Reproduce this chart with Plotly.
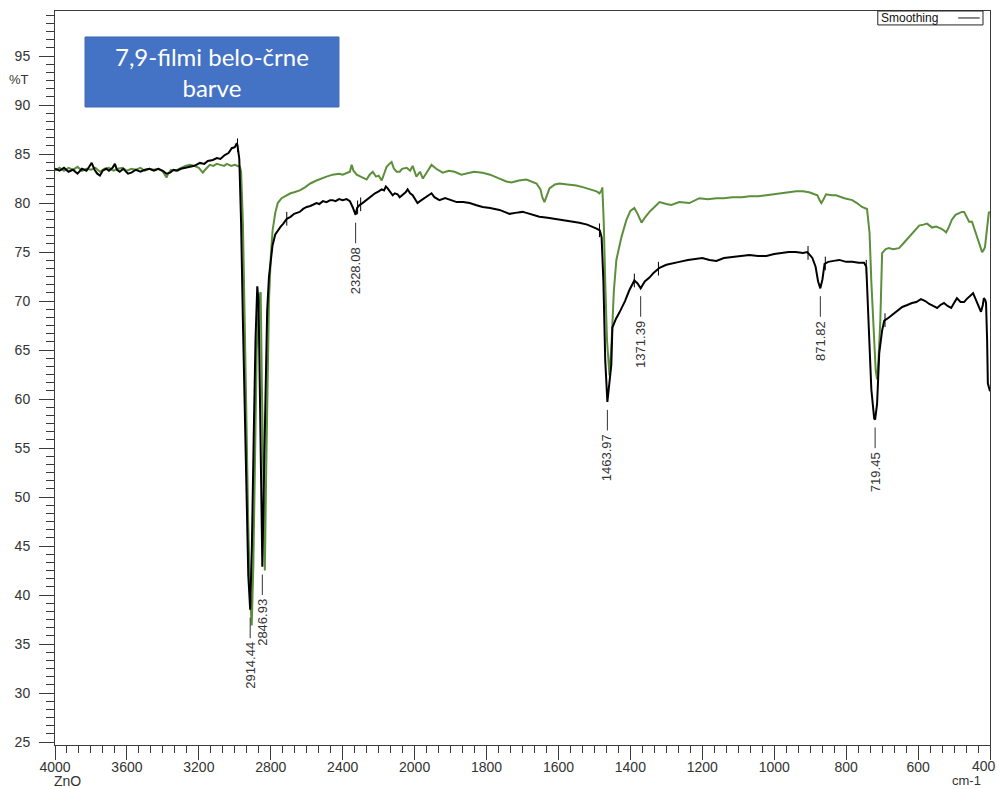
import numpy as np
import plotly.graph_objects as go

# ---------------- data ----------------
# black spectrum (wavenumber cm-1, %T)
black_wn = [4000, 3975, 3950, 3925, 3900, 3875, 3850, 3825, 3810, 3796, 3780, 3765, 3750, 3735, 3715,
            3700, 3680, 3667, 3655, 3640, 3620, 3594, 3575, 3550, 3525, 3500, 3475, 3450, 3425, 3400,
            3380, 3360, 3340, 3320, 3300, 3275, 3250, 3225, 3194, 3170, 3150, 3122, 3100, 3080, 3056,
            3035, 3017, 3000, 2989, 2985, 2975, 2965, 2955, 2945, 2935, 2925, 2914.44, 2905, 2895, 2885,
            2875, 2868, 2860, 2853, 2846.93, 2840, 2830, 2820, 2810, 2800, 2790, 2775, 2761, 2745, 2730,
            2711, 2690, 2670, 2655, 2639, 2620, 2600, 2580, 2560, 2546, 2530, 2510, 2490, 2470, 2456,
            2440, 2420, 2400, 2378, 2360, 2345, 2335, 2328.08, 2320, 2306, 2290, 2270, 2250, 2235, 2220,
            2200, 2183, 2170, 2160, 2150, 2140, 2130, 2122, 2110, 2095, 2083, 2065, 2050, 2039, 2025,
            2011, 2000, 1992, 1985, 1977, 1965, 1953, 1945, 1931, 1915, 1900, 1883, 1865, 1847, 1830,
            1811, 1790, 1764, 1750, 1736, 1720, 1700, 1689, 1670, 1653, 1630, 1610, 1597, 1575, 1560,
            1542, 1520, 1505, 1494, 1485, 1480, 1475, 1470, 1463.97, 1458, 1453, 1450, 1440, 1431, 1415,
            1403, 1389, 1380, 1371.39, 1360, 1347, 1335, 1319, 1300, 1280, 1264, 1240, 1220, 1200, 1180,
            1161, 1140, 1117, 1090, 1069, 1045, 1022, 1000, 978, 960, 940, 920, 908, 894, 885,
            878, 871.82, 866, 860, 850, 835, 819, 800, 783, 765, 750, 744, 738, 730, 722,
            719.45, 714, 708, 700, 694, 682, 672, 660, 644, 630, 617, 605, 592, 580, 569,
            558, 547, 538, 528, 518, 508, 500, 492, 482, 472, 465, 458, 447, 440, 436,
            430, 425, 420, 417, 413, 411, 408, 406, 400]
black_t = [83.5, 83.3, 83.6, 83.2, 83.4, 83.0, 83.5, 83.3, 83.7, 84.1, 83.4, 83.0, 82.8, 83.3, 83.5,
           83.3, 83.6, 84.0, 83.4, 83.2, 83.5, 83.0, 83.1, 83.4, 83.2, 83.4, 83.5, 83.3, 83.5, 83.3,
           83.0, 83.1, 83.4, 83.3, 83.5, 83.6, 83.7, 83.8, 84.1, 84.0, 84.3, 84.4, 84.6, 84.5, 84.9,
           85.1, 85.6, 85.7, 86.1, 85.9, 84.5, 78.0, 68.0, 58.0, 48.0, 42.0, 38.5, 45.0, 56.0, 66.0,
           71.5, 70.0, 60.0, 50.0, 42.9, 50.0, 62.0, 69.0, 72.5, 74.5, 75.7, 76.8, 77.2, 77.6, 77.9,
           78.4, 78.6, 78.9, 79.0, 79.1, 79.4, 79.6, 79.7, 79.9, 80.0, 79.9, 80.2, 80.1, 80.3, 80.3,
           80.2, 80.4, 80.3, 80.4, 80.2, 79.6, 79.2, 78.8, 79.5, 79.8, 80.0, 80.3, 80.6, 80.8, 81.0,
           81.2, 81.4, 81.3, 81.7, 81.5, 81.2, 80.9, 80.8, 81.0, 80.9, 80.6, 80.9, 81.1, 81.4, 81.0,
           80.8, 80.5, 80.0, 80.2, 80.4, 80.7, 81.0, 80.6, 80.3, 80.5, 80.3, 80.1, 80.1, 80.0, 79.8,
           79.6, 79.5, 79.3, 79.1, 78.9, 79.0, 79.1, 79.0, 78.8, 78.6, 78.5, 78.4, 78.3, 78.2, 78.1,
           78.0, 77.8, 77.6, 77.4, 77.2, 76.5, 72.0, 64.0, 59.7, 61.5, 63.5, 67.3, 68.2, 68.8, 70.0,
           71.1, 72.1, 71.8, 71.3, 72.0, 72.4, 72.9, 73.4, 73.7, 73.9, 74.0, 74.2, 74.3, 74.4, 74.2,
           74.1, 74.4, 74.5, 74.6, 74.7, 74.6, 74.6, 74.8, 74.9, 75.0, 75.0, 74.9, 75.0, 74.4, 73.5,
           72.0, 71.3, 72.2, 73.8, 74.0, 74.1, 74.2, 74.0, 74.0, 73.9, 73.9, 73.5, 68.0, 61.0, 58.0,
           57.9, 59.5, 64.7, 67.0, 68.0, 68.3, 68.6, 69.0, 69.4, 69.6, 69.8, 69.9, 70.2, 70.0, 69.7,
           69.5, 69.3, 69.6, 69.8, 69.5, 69.3, 69.8, 70.3, 69.9, 69.9, 70.2, 70.4, 70.8, 70.2, 69.8,
           69.3, 68.9, 69.6, 70.3, 70.1, 69.8, 66.0, 61.6, 60.8]

# green spectrum (wavenumber cm-1, %T)
green_wn = [4000, 3975, 3950, 3925, 3900, 3875, 3850, 3825, 3800, 3775, 3750, 3725, 3700, 3675, 3650,
            3625, 3600, 3575, 3550, 3525, 3500, 3475, 3450, 3425, 3400, 3390, 3380, 3370, 3355, 3330,
            3300, 3275, 3250, 3225, 3200, 3185, 3178, 3165, 3150, 3139, 3120, 3100, 3080, 3060, 3044,
            3020, 3000, 2985, 2972, 2965, 2955, 2945, 2935, 2925, 2915, 2906, 2897, 2888, 2878, 2866,
            2856, 2850, 2842, 2833, 2826, 2818, 2810, 2800, 2790, 2775, 2761, 2740, 2711, 2690, 2670,
            2639, 2610, 2580, 2546, 2520, 2490, 2456, 2420, 2400, 2378, 2360, 2350, 2340, 2322, 2300,
            2280, 2267, 2250, 2233, 2215, 2200, 2183, 2170, 2156, 2140, 2128, 2115, 2100, 2083, 2070,
            2044, 2025, 2011, 2000, 1995, 1985, 1977, 1965, 1953, 1940, 1922, 1905, 1889, 1870, 1856,
            1835, 1811, 1790, 1764, 1745, 1731, 1710, 1689, 1675, 1661, 1650, 1645, 1639, 1632, 1625,
            1610, 1597, 1575, 1550, 1530, 1508, 1494, 1486, 1480, 1478, 1474, 1470, 1465, 1458, 1452,
            1446, 1439, 1425, 1411, 1400, 1389, 1380, 1369, 1358, 1347, 1333, 1319, 1300, 1286, 1264,
            1236, 1208, 1185, 1161, 1140, 1117, 1090, 1069, 1045, 1022, 1000, 978, 960, 939, 920,
            903, 888, 880, 874, 869, 864, 856, 840, 828, 805, 783, 770, 756, 742, 735,
            730, 724, 718, 714, 710, 705, 700, 690, 681, 670, 653, 643, 633, 625, 617,
            607, 597, 585, 575, 568, 561, 550, 536, 528, 522, 515, 506, 496, 486, 478,
            472, 465, 458, 450, 443, 436, 428, 422, 418, 414, 408, 403, 400]
green_t = [83.3, 83.6, 83.3, 83.6, 83.4, 83.7, 83.3, 83.5, 83.4, 83.6, 83.2, 83.5, 83.6, 83.3, 83.5,
           83.6, 83.3, 83.5, 83.4, 83.6, 83.3, 83.5, 83.4, 83.5, 83.2, 82.9, 82.6, 83.0, 83.4, 83.3,
           83.6, 83.8, 83.9, 83.8, 83.6, 83.3, 83.1, 83.4, 83.7, 83.9, 83.8, 84.0, 83.9, 83.8, 84.0,
           83.8, 83.9, 83.8, 83.7, 83.2, 78.0, 68.0, 57.0, 47.0, 40.0, 36.9, 43.0, 55.0, 65.0, 70.5,
           70.9, 62.0, 50.0, 42.5, 52.0, 64.0, 70.0, 74.5, 77.2, 79.0, 80.0, 80.5, 80.8, 81.0, 81.1,
           81.3, 81.6, 82.0, 82.3, 82.5, 82.7, 82.9, 83.0, 82.9, 83.1, 83.2, 83.9, 83.3, 82.9, 82.7,
           82.6, 82.4, 82.9, 83.2, 82.7, 82.8, 82.3, 83.0, 83.7, 84.0, 84.2, 83.5, 83.2, 83.2, 83.5,
           83.6, 83.3, 83.8, 83.3, 82.7, 83.2, 82.5, 83.2, 83.9, 83.5, 83.1, 83.3, 83.2, 82.9, 83.0,
           83.2, 83.1, 82.9, 82.5, 82.2, 82.1, 82.3, 82.4, 82.2, 82.0, 81.4, 80.6, 80.1, 80.8, 81.5,
           81.9, 82.0, 81.9, 81.8, 81.6, 81.4, 81.2, 81.0, 81.3, 81.6, 78.0, 72.0, 66.0, 62.4, 66.0,
           71.0, 74.2, 76.5, 78.3, 79.2, 79.5, 78.9, 78.0, 78.6, 79.1, 79.6, 80.1, 79.9, 79.8, 80.1,
           80.0, 80.5, 80.4, 80.5, 80.5, 80.6, 80.6, 80.7, 80.7, 80.8, 80.9, 81.0, 81.1, 81.2, 81.2,
           81.1, 80.9, 80.8, 80.3, 80.0, 80.3, 80.9, 80.8, 80.8, 80.5, 80.3, 80.0, 79.6, 79.4, 77.0,
           72.0, 67.0, 63.0, 62.0, 64.0, 68.0, 74.9, 75.3, 75.4, 75.3, 75.4, 75.8, 76.2, 76.5, 76.9,
           77.3, 77.7, 77.8, 77.9, 77.7, 77.5, 77.6, 77.4, 77.2, 77.0, 77.5, 78.3, 78.8, 79.0, 79.1,
           79.1, 78.6, 78.1, 78.1, 77.3, 76.5, 75.6, 75.0, 75.2, 75.5, 77.5, 79.1, 79.0]

# picked peaks on the black spectrum
peak_wn = [2914.44, 2846.93, 2328.08, 1463.97, 1371.39, 871.82, 719.45]
peak_text = ["2914.44", "2846.93", "2328.08", "1463.97", "1371.39", "871.82", "719.45"]

# peak-pick limit markers on the black spectrum
limit_wn = [2985, 2711, 2317, 2300, 1486, 1389, 1322, 906, 858, 744, 692]

x_major = [4000, 3600, 3200, 2800, 2400, 2000, 1800, 1600, 1400, 1200, 1000, 800, 600, 400]

BLACK = "#000000"
GREEN = "#5b8f3b"
FRAME = "#3a3a3a"
TXT = "#333333"
FONT = "Liberation Sans, Arial"


def ax(w):
    """Wavenumber -> axis coordinate (scale halves above 2000 cm-1)."""
    w = np.asarray(w, dtype=float)
    return np.where(w <= 2000, w, 2000 + (w - 2000) / 2.0)


fig = go.Figure()

fig.add_trace(go.Scatter(x=ax(green_wn), y=green_t, mode="lines",
                         line=dict(color=GREEN, width=2), hoverinfo="skip"))
fig.add_trace(go.Scatter(x=ax(black_wn), y=black_t, mode="lines",
                         line=dict(color=BLACK, width=2), hoverinfo="skip"))

# small vertical limit markers sitting on the black trace
bw_sorted = np.array(black_wn[::-1], dtype=float)
bt_sorted = np.array(black_t[::-1], dtype=float)
lx, ly = [], []
for w in limit_wn:
    v = float(np.interp(w, bw_sorted, bt_sorted))
    lx += [float(ax(w)), float(ax(w)), None]
    ly += [v - 0.7, v + 0.7, None]
fig.add_trace(go.Scatter(x=lx, y=ly, mode="lines", line=dict(color=BLACK, width=1),
                         hoverinfo="skip"))

# peak labels: short leader line + rotated wavenumber text
px_, py_ = [], []
for w, txt in zip(peak_wn, peak_text):
    v = float(np.interp(w, bw_sorted, bt_sorted))
    xa = float(ax(w))
    px_ += [xa, xa, None]
    py_ += [v - 0.8, v - 2.9, None]
    fig.add_annotation(x=xa, y=v - 3.1, xref="x", yref="y", text=txt, textangle=-90,
                       showarrow=False, xanchor="center", yanchor="top",
                       font=dict(family=FONT, size=13, color=TXT))
fig.add_trace(go.Scatter(x=px_, y=py_, mode="lines", line=dict(color=TXT, width=1),
                         hoverinfo="skip"))

# title box
fig.add_shape(type="rect", xref="paper", yref="paper", x0=0.0321, x1=0.3037, y0=0.8692, y1=0.9646,
              line=dict(color="#3f69b5", width=1), fillcolor="#4472c4", layer="above")
fig.add_annotation(xref="paper", yref="paper", x=0.168, y=0.917, showarrow=False,
                   xanchor="center", yanchor="middle",
                   text="7,9-filmi belo-črne<br>barve", align="center",
                   font=dict(family="Lato, Open Sans", size=24, color="white"))

# legend box
fig.add_shape(type="rect", xref="paper", yref="paper", x0=0.880, x1=0.9925, y0=0.981, y1=1.0,
              line=dict(color="#222222", width=1), fillcolor="white")
fig.add_annotation(xref="paper", yref="paper", x=0.881, y=0.9905, xanchor="left", yanchor="middle",
                   showarrow=False, text="Smoothing",
                   font=dict(family=FONT, size=12, color="#111111"))
fig.add_shape(type="line", xref="paper", yref="paper", x0=0.966, x1=0.989, y0=0.9905, y1=0.9905,
              line=dict(color="#111111", width=1))

# axis captions
fig.add_annotation(xref="paper", yref="paper", x=-0.0385, y=0.906, showarrow=False, text="%T",
                   xanchor="center", yanchor="middle",
                   font=dict(family=FONT, size=13, color=TXT))
fig.add_annotation(xref="paper", yref="paper", x=0.0139, y=-0.0490, showarrow=False, text="ZnO",
                   xanchor="center", yanchor="middle",
                   font=dict(family=FONT, size=14, color=TXT))
fig.add_annotation(xref="paper", yref="paper", x=0.975, y=-0.0480, showarrow=False, text="cm-1",
                   xanchor="center", yanchor="middle",
                   font=dict(family=FONT, size=13, color=TXT))

# the rightmost tick label sits flush against the page edge
tick_labels = [str(v) for v in x_major]
fig.add_annotation(xref="paper", yref="paper", x=1.0086, y=-0.0286, showarrow=False,
                   text=tick_labels[-1], xanchor="right", yanchor="middle",
                   font=dict(family=FONT, size=14, color=TXT))
tick_labels[-1] = ""

fig.update_layout(
    width=999, height=789,
    margin=dict(l=55, r=9, t=11, b=44),
    paper_bgcolor="white", plot_bgcolor="white",
    showlegend=False,
    xaxis=dict(
        range=[3000, 400], tickmode="array", automargin=False,
        tickvals=[float(v) for v in ax(x_major)], ticktext=tick_labels,
        ticks="outside", ticklen=14, tickwidth=1, tickcolor=FRAME,
        showline=True, linecolor=FRAME, linewidth=1, mirror=True,
        showgrid=False, zeroline=False, ticklabeloverflow="allow", ticklabelstandoff=-5,
        tickfont=dict(family=FONT, size=14, color=TXT),
        minor=dict(tickmode="linear", tick0=400, dtick=200 / 6, ticks="outside", ticklen=7,
                   tickcolor=FRAME, showgrid=False),
    ),
    yaxis=dict(
        range=[24.7, 99.6], tickmode="linear", tick0=25, dtick=5, automargin=False,
        ticks="outside", ticklen=15, tickwidth=1, tickcolor=FRAME,
        showline=True, linecolor=FRAME, linewidth=1, mirror=True,
        showgrid=False, zeroline=False, ticklabelstandoff=6,
        tickfont=dict(family=FONT, size=14, color=TXT),
        minor=dict(tickmode="linear", tick0=25, dtick=5 / 6, ticks="outside", ticklen=8,
                   tickcolor=FRAME, showgrid=False),
    ),
)

fig.write_html("out.html")
